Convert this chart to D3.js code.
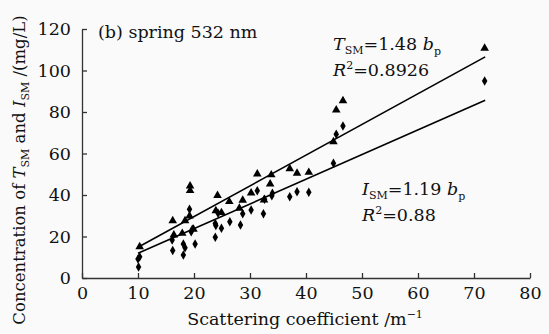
<!DOCTYPE html>
<html><head><meta charset="utf-8">
<script src="https://cdn.jsdelivr.net/npm/d3@7"></script>
<style>
html,body{margin:0;padding:0;background:#fafafa;}
svg{display:block;}
text{font-family:"DejaVu Serif",serif;fill:#111;}
</style></head>
<body>
<svg id="c" width="549" height="334"></svg>
<script>
// Data (x = scattering coefficient, y = concentration)
const tsmX = [10.3,16.2,18.4,19.3,19.3,16.4,17.9,19.2,19.9,24.2,23.9,26.3,28.7,28.1,30.2,31.3,33.8,33.6,32.5,37.1,38.4,40.5,44.9,45.4,46.6,71.9,24.9];
const tsmY = [15.1,27.6,27.6,44.3,42.1,20.7,21.5,29.9,23.5,39.8,32.4,36.8,37.5,33.6,41.0,50.1,49.7,45.3,37.6,52.7,50.5,50.9,65.7,81.0,85.4,110.7,31.5];
const ismX = [10.1,10.0,10.3,16.1,16.2,18.1,18.4,18.1,20.2,19.2,19.7,19.5,23.8,24.9,23.9,23.8,24.3,26.4,28.3,28.7,30.2,31.3,32.4,32.6,33.9,34.0,37.1,38.4,40.5,44.9,45.4,46.6,71.9];
const ismY = [5.3,9.2,10.2,18.3,13.3,16.4,14.6,11.1,16.4,33.1,23.5,22.3,19.6,24.0,25.3,26.3,31.2,27.1,25.5,31.0,32.8,42.1,31.0,37.9,39.6,40.9,39.2,41.6,41.3,55.3,69.3,73.3,94.9];
const fitSlopes = [1.48, 1.19];   // TSM, ISM
const fitRange = [10, 72];
const xTicks = [0,10,20,30,40,50,60,70,80];
const yTicks = [0,20,40,60,80,100,120];

const svg = d3.select("#c");
const x = d3.scaleLinear().domain([0,80]).range([82,530]);
const y = d3.scaleLinear().domain([0,120]).range([278,29]);

const FS = 17.5;

// axes
const xa = svg.append("g").attr("transform",`translate(0,${y(0)})`)
  .call(d3.axisBottom(x).tickValues(xTicks).tickSize(-5).tickPadding(9).tickSizeOuter(0));
const ya = svg.append("g").attr("transform",`translate(${x(0)},0)`)
  .call(d3.axisLeft(y).tickValues(yTicks).tickSize(-5).tickPadding(11).tickSizeOuter(0));
[xa,ya].forEach(a=>{
  a.selectAll("path,line").attr("stroke","#333").attr("stroke-width",1.3);
  a.selectAll("text").style("font-family","DejaVu Serif").style("font-size",FS+"px").attr("fill","#111");
});

// fit lines
const lineG = svg.append("g");
fitSlopes.forEach(s=>{
  lineG.append("line")
    .attr("x1",x(fitRange[0])).attr("y1",y(s*fitRange[0]))
    .attr("x2",x(fitRange[1])).attr("y2",y(s*fitRange[1]))
    .attr("stroke","#000").attr("stroke-width",1.6);
});

// points
const tri = d3.symbol().type(d3.symbolTriangle).size(32);
const dia = d3.symbol().type(d3.symbolDiamond).size(26);
svg.append("g").selectAll("path").data(ismX.map((v,i)=>[v,ismY[i]])).join("path")
  .attr("d",dia).attr("transform",d=>`translate(${x(d[0])},${y(d[1])})`).attr("fill","#000");
svg.append("g").selectAll("path").data(tsmX.map((v,i)=>[v,tsmY[i]])).join("path")
  .attr("d",tri).attr("transform",d=>`translate(${x(d[0])},${y(d[1])})`).attr("fill","#000");

// title in plot
svg.append("text").attr("x",98).attr("y",38).style("font-size",FS+"px").text("(b) spring 532 nm");

// equation helper
function eq(xp,yp,letter,slope){
  const t = svg.append("text").attr("x",xp).attr("y",yp).style("font-size",FS+"px");
  t.append("tspan").attr("font-style","italic").text(letter);
  t.append("tspan").attr("dy",4).style("font-size","11px").text("SM");
  t.append("tspan").attr("dy",-4).text("="+slope+" ");
  t.append("tspan").attr("font-style","italic").text("b");
  t.append("tspan").attr("dy",5).style("font-size","11px").text("p");
}
function r2(xp,yp,val){
  const t = svg.append("text").attr("x",xp).attr("y",yp).style("font-size",FS+"px");
  t.append("tspan").attr("font-style","italic").text("R");
  t.append("tspan").attr("dy",-7).style("font-size","11px").text("2");
  t.append("tspan").attr("dy",7).text("="+val);
}
eq(333,50,"T","1.48");
r2(333,76,"0.8926");
eq(362,195,"I","1.19");
r2(362,221,"0.88");

// axis titles
const xt = svg.append("text").attr("x",305).attr("y",325).attr("text-anchor","middle").style("font-size",FS+"px");
xt.append("tspan").text("Scattering coefficient /m");
xt.append("tspan").attr("dy",-7).style("font-size","11px").text("−1");

const yt = svg.append("text").attr("transform","translate(25,170) rotate(-90)").attr("text-anchor","middle").style("font-size","16.5px");
yt.append("tspan").text("Concentration of ");
yt.append("tspan").attr("font-style","italic").text("T");
yt.append("tspan").attr("dy",4).style("font-size","11px").text("SM");
yt.append("tspan").attr("dy",-4).text(" and ");
yt.append("tspan").attr("font-style","italic").text("I");
yt.append("tspan").attr("dy",4).style("font-size","11px").text("SM");
yt.append("tspan").attr("dy",-4).text(" /(mg/L)");
</script>
</body></html>
